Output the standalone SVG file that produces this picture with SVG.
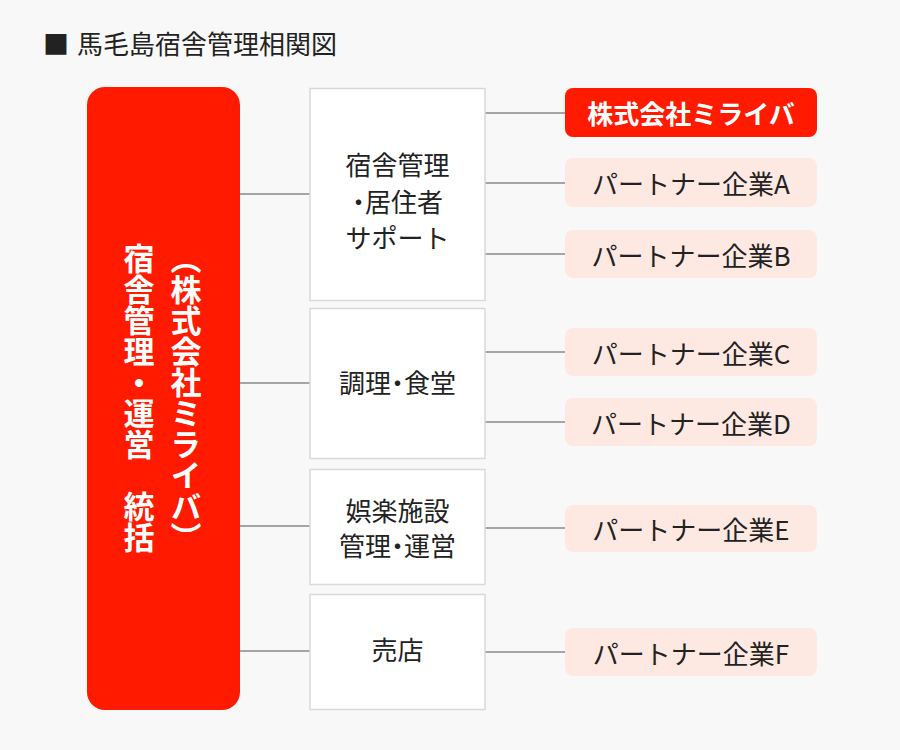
<svg xmlns="http://www.w3.org/2000/svg" width="900" height="750" viewBox="0 0 900 750">
<style>
text{font-family:"Noto Sans CJK JP","Noto Sans",sans-serif;fill:#222;}
.mid{fill:#fff;stroke:#d9d9d9;stroke-width:1.5;}
.pt{fill:#fde9e2;}
.red{fill:#ff1a00;}
.t26{font-size:26px;}
.w{fill:#fff;font-weight:bold;}
.c{text-anchor:middle;dominant-baseline:central;}
.p{font-feature-settings:"palt";}
.vt{writing-mode:vertical-rl;text-anchor:middle;font-size:31px;font-weight:bold;fill:#fff;}
.ln{stroke:#8a8a8a;stroke-width:1.5;fill:none;}
</style>
<rect width="900" height="750" fill="#f8f8f8"/>
<g id="title">
<text x="43" y="42" font-size="26" dominant-baseline="central" fill="#111">■</text>
<text x="77" y="42" font-size="26" dominant-baseline="central" fill="#111">馬毛島宿舎管理相関図</text>
</g>
<g id="connectors">
<line class="ln" x1="240" y1="194" x2="310" y2="194"/>
<line class="ln" x1="240" y1="383" x2="310" y2="383"/>
<line class="ln" x1="240" y1="526" x2="310" y2="526"/>
<line class="ln" x1="240" y1="651" x2="310" y2="651"/>
<line class="ln" x1="485" y1="113" x2="565" y2="113"/>
<line class="ln" x1="485" y1="183" x2="565" y2="183"/>
<line class="ln" x1="485" y1="254" x2="565" y2="254"/>
<line class="ln" x1="485" y1="352" x2="565" y2="352"/>
<line class="ln" x1="485" y1="422" x2="565" y2="422"/>
<line class="ln" x1="485" y1="528" x2="565" y2="528"/>
<line class="ln" x1="485" y1="652" x2="565" y2="652"/>
</g>
<g id="main">
<rect class="red" x="87" y="87" width="153" height="623" rx="18"/>
<text class="vt" x="139" y="398">宿舎管理・運営　統括</text>
<text class="vt" x="186" y="398">（株式会社ミライバ）</text>
</g>
<g id="dept1">
<rect class="mid" x="310" y="88.5" width="175" height="212"/>
<text class="c t26" x="397.5" y="163">宿舎管理</text>
<text class="c t26 p" x="397.5" y="200">・居住者</text>
<text class="c t26" x="397.5" y="236">サポート</text>
</g>
<g id="dept2">
<rect class="mid" x="310" y="308.5" width="175" height="150"/>
<text class="c t26 p" x="397.5" y="381">調理・食堂</text>
</g>
<g id="dept3">
<rect class="mid" x="310" y="469.5" width="175" height="115"/>
<text class="c t26" x="397.5" y="509">娯楽施設</text>
<text class="c t26 p" x="397.5" y="544">管理・運営</text>
</g>
<g id="dept4">
<rect class="mid" x="310" y="594.5" width="175" height="115"/>
<text class="c t26" x="397.5" y="648">売店</text>
</g>
<g id="mirai">
<rect class="red" x="565" y="88" width="252" height="49" rx="8"/>
<text class="c t26 w" x="691" y="112.5">株式会社ミライバ</text>
</g>
<g id="pA"><rect class="pt" x="565" y="158" width="252" height="49" rx="8"/><text class="c t26" x="691" y="182.5">パートナー企業A</text></g>
<g id="pB"><rect class="pt" x="565" y="230" width="252" height="48" rx="8"/><text class="c t26" x="691" y="254">パートナー企業B</text></g>
<g id="pC"><rect class="pt" x="565" y="328" width="252" height="48" rx="8"/><text class="c t26" x="691" y="352">パートナー企業C</text></g>
<g id="pD"><rect class="pt" x="565" y="398" width="252" height="48" rx="8"/><text class="c t26" x="691" y="422">パートナー企業D</text></g>
<g id="pE"><rect class="pt" x="565" y="505" width="252" height="47" rx="8"/><text class="c t26" x="691" y="528.5">パートナー企業E</text></g>
<g id="pF"><rect class="pt" x="565" y="628" width="252" height="48" rx="8"/><text class="c t26" x="691" y="652">パートナー企業F</text></g>
</svg>
